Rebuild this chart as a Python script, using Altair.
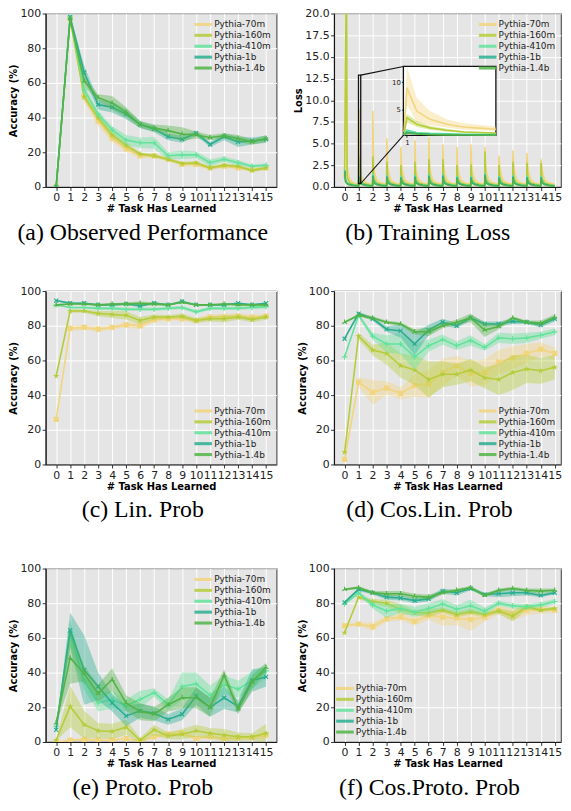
import altair as alt
import pandas as pd

MODELS = ["Pythia-70m", "Pythia-160m", "Pythia-410m", "Pythia-1b", "Pythia-1.4b"]
COLORS = ["#f2d57f", "#b6cc3a", "#63e39c", "#2aae90", "#52b448"]
TASKS = list(range(16))

# (a) Observed Performance
OBS_MEAN = {
    "Pythia-70m": [0, 97, 52, 38, 28, 22, 18, 18, 16, 13, 13, 11, 12, 11, 10, 11],
    "Pythia-160m": [0, 97, 52, 40, 30, 24, 19, 18, 16, 13.5, 14, 11, 12.5, 12, 9.5, 11],
    "Pythia-410m": [0, 98, 56, 42, 33, 27, 25.5, 25.5, 18, 18.5, 18.5, 14, 16, 14, 12, 12.5],
    "Pythia-1b": [0, 98, 66, 47.5, 46, 42, 36, 33.5, 29, 27.5, 31, 24.5, 29, 26, 26.5, 27.5],
    "Pythia-1.4b": [0, 97, 61, 51.5, 48.5, 43, 36, 34, 32.5, 30.5, 30, 28.5, 29.5, 28, 26, 28],
}
OBS_STD = {
    "Pythia-70m": [0, 1, 3, 3, 2, 2, 1.5, 1.5, 1, 1, 1, 1, 1, 1, 1, 1],
    "Pythia-160m": [0, 1, 2, 2, 2, 2, 1, 1, 1, 1, 1, 1, 1, 1, 1, 1],
    "Pythia-410m": [0, 1, 3, 2, 2, 3, 3, 3.5, 2, 2.5, 2, 2, 1.5, 1.5, 1, 1],
    "Pythia-1b": [0, 1, 4, 3, 3, 3, 2, 2, 2, 2, 1.5, 1.5, 2, 3, 2, 2],
    "Pythia-1.4b": [0, 1, 3, 2, 4, 3, 2, 2, 3, 4, 2, 1.5, 1.5, 2, 1.5, 2],
}

# (c) Lin. Prob
LIN_MEAN = {
    "Pythia-70m": [26, 78.5, 79, 78, 79, 80.5, 80, 83.5, 84, 84, 83, 85, 85, 85.5, 85, 85.5],
    "Pythia-160m": [51, 88.5, 88.5, 87, 86.5, 86, 83, 85, 85, 85.5, 83, 84, 84, 85, 83.5, 85],
    "Pythia-410m": [92, 90.5, 90.5, 90, 90, 89.5, 89.5, 89.5, 90, 90.5, 88, 90, 90, 90, 90.5, 91],
    "Pythia-1b": [94.5, 93, 93, 92, 92, 92.5, 91.5, 93, 92, 94, 92, 92, 92, 93, 92, 93],
    "Pythia-1.4b": [92, 92.5, 92.5, 92, 92.5, 92.5, 93, 92.5, 92, 93.5, 92, 92, 92.5, 92, 92, 92],
}
LIN_STD = {
    "Pythia-70m": [0, 1.5, 1.5, 1.5, 1, 1.5, 2, 1.5, 1, 1, 1.5, 1.5, 2, 1.5, 1.5, 1],
    "Pythia-160m": [0, 1, 1, 1.5, 2, 2.5, 2, 1.5, 1, 1.5, 1.5, 1.5, 2, 1.5, 1.5, 1.5],
    "Pythia-410m": [0, 0.5, 0.5, 1, 1, 1, 1, 1, 1, 1, 1, 1, 1, 1, 1, 1],
    "Pythia-1b": [0.5, 0.5, 0.5, 0.5, 0.5, 0.5, 1, 0.5, 0.5, 0.5, 0.5, 0.5, 0.5, 0.5, 0.5, 0.5],
    "Pythia-1.4b": [0.5, 0.5, 0.5, 0.5, 0.5, 1, 1, 1, 0.5, 0.5, 0.5, 0.5, 0.5, 0.5, 0.5, 0.5],
}

# (d) Cos.Lin. Prob
COSLIN_MEAN = {
    "Pythia-70m": [3, 47.5, 41.5, 44, 41, 45.5, 46.5, 53, 57, 52.5, 53, 59, 61.5, 64, 66.5, 64],
    "Pythia-160m": [7, 74, 66, 64, 57, 54.5, 49, 52, 52, 54.5, 50, 49, 53, 55, 54, 56],
    "Pythia-410m": [62, 86, 74, 69.5, 69.5, 62, 68.5, 72, 68.5, 71.5, 67.5, 73, 72.5, 73, 74.5, 76.5],
    "Pythia-1b": [72.5, 87, 84, 78, 77, 69.5, 77.5, 82, 80, 84.5, 81, 81, 82.5, 82, 80.5, 84],
    "Pythia-1.4b": [82, 86, 84.5, 82, 81, 76.5, 76.5, 80, 82, 84.5, 77.5, 79.5, 84.5, 82, 81.5, 85],
}
COSLIN_STD = {
    "Pythia-70m": [0.5, 3, 7, 4, 3.5, 6.5, 8, 8, 5.5, 7.5, 7.5, 7, 6.5, 5.5, 4, 3.5],
    "Pythia-160m": [0.5, 2, 3, 6.5, 7, 8.5, 10.5, 7.5, 6, 6.5, 6, 9, 10, 8, 7.5, 7],
    "Pythia-410m": [0.5, 1, 2, 5, 6, 7.5, 3.5, 3, 2.5, 3, 2, 3, 3, 3, 2, 2],
    "Pythia-1b": [0.5, 1, 1, 1.5, 4, 6.5, 3, 2, 1.5, 1.5, 1.5, 1.5, 1.5, 1, 1.5, 1.5],
    "Pythia-1.4b": [0.5, 1, 1, 1, 1, 1.5, 2.5, 1.5, 1.5, 2.5, 4, 1.5, 1, 1, 1.5, 1.5],
}

# (e) Proto. Prob
PROTO_MEAN = {
    "Pythia-70m": [0, 1, 1.5, 1, 1, 2, 0.5, 3, 4.5, 5, 2, 3, 2, 2.5, 2.5, 4],
    "Pythia-160m": [1, 20.5, 10, 6.5, 6, 8.5, 1, 7, 3.5, 4.5, 6.5, 5, 4, 3, 3, 5],
    "Pythia-410m": [9, 63, 35, 22.5, 24.5, 21, 24.5, 28.5, 21.5, 32, 33.5, 27, 33, 30.5, 35.5, 41],
    "Pythia-1b": [7, 64.5, 41.5, 32, 22.5, 15, 18, 16.5, 13, 16, 26.5, 20, 25.5, 20.5, 35.5, 37.5],
    "Pythia-1.4b": [11, 48.5, 39.5, 28, 36, 22.5, 17.5, 16, 21.5, 25.5, 25.5, 20, 38.5, 19, 34.5, 43],
}
PROTO_STD = {
    "Pythia-70m": [0, 0.5, 1, 0.5, 0.5, 1, 0.5, 1, 1.5, 1.5, 1, 1, 1, 1, 1, 2],
    "Pythia-160m": [0.5, 12, 8, 4.5, 4.5, 4.5, 1.5, 3, 2, 3, 3.5, 3, 3.5, 2.5, 2, 5.5],
    "Pythia-410m": [1, 7, 5, 5, 5, 3.5, 5, 2.5, 3, 8, 6.5, 5.5, 5.5, 5, 5, 4],
    "Pythia-1b": [1, 10, 20, 8, 5, 6, 4, 4, 3, 3.5, 5, 5.5, 6.5, 3.5, 6.5, 5.5],
    "Pythia-1.4b": [1, 15, 4.5, 5, 6.5, 4.5, 5, 4, 4, 6, 6, 5.5, 3.5, 3, 4, 2.5],
}

# (f) Cos.Proto. Prob
COSPROTO_MEAN = {
    "Pythia-70m": [67, 68, 66.5, 71, 72, 69.5, 73, 72, 71.5, 70.5, 72, 76, 73.5, 76, 76.5, 76],
    "Pythia-160m": [63, 83.5, 81, 80, 76.5, 74.5, 74.5, 76, 73.5, 75, 73.5, 75.5, 72.5, 78, 76, 77],
    "Pythia-410m": [79.5, 86, 79, 75.5, 77, 75, 77, 79.5, 76.5, 78.5, 75.5, 80, 78.5, 78, 79, 81],
    "Pythia-1b": [80.5, 88, 86, 83.5, 83, 81.5, 82.5, 87, 86, 88.5, 85, 85.5, 86, 86, 84.5, 86],
    "Pythia-1.4b": [88, 89, 86, 85.5, 85.5, 84, 83.5, 86, 87.5, 89, 84.5, 87.5, 88.5, 87.5, 87, 87.5],
}
COSPROTO_STD = {
    "Pythia-70m": [1, 1, 2.5, 1.5, 2, 2.5, 2.5, 5, 4, 6.5, 2.5, 2.5, 3.5, 3, 2.5, 1.5],
    "Pythia-160m": [0.5, 1, 1.5, 2, 3, 1.5, 2.5, 1.5, 1.5, 1.5, 1.5, 1.5, 3, 1.5, 1, 1],
    "Pythia-410m": [0.5, 1, 2, 4, 2.5, 3, 3, 3, 2.5, 3.5, 2, 1.5, 1.5, 1.5, 1.5, 1.5],
    "Pythia-1b": [0.5, 1, 1, 1.5, 1.5, 1.5, 1.5, 1.5, 1.5, 1, 1, 2, 2, 1.5, 1, 1],
    "Pythia-1.4b": [0.5, 1, 1, 1.5, 1.5, 1.5, 1.5, 1, 1, 1, 1, 1, 1, 1, 1.5, 1],
}

# (b) Training loss: each task i spans [i, i+1]; spike at the start then decay
LOSS_TASKS = list(range(15))
LOSS_STEP_X = [0.0, 0.02, 0.07, 0.15, 0.3, 0.6, 0.99]
LOSS_STEP_X0 = {  # first task: where the first logged points sit
    "Pythia-70m": [0.0, 0.13, 0.18, 0.26, 0.4, 0.6, 0.99],
    "Pythia-160m": [0.0, 0.13, 0.18, 0.26, 0.4, 0.6, 0.99],
    "Pythia-410m": LOSS_STEP_X,
    "Pythia-1b": LOSS_STEP_X,
    "Pythia-1.4b": LOSS_STEP_X,
}
LOSS_START0 = {"Pythia-70m": 1.0, "Pythia-160m": 1.0, "Pythia-410m": 1.9,
               "Pythia-1b": 1.8, "Pythia-1.4b": 1.7}
LOSS_PEAK = {
    "Pythia-70m": [22.0, 9.0, 8.8, 5.6, 4.6, 5.4, 5.7, 4.9, 4.6, 4.9, 4.6, 3.6, 4.2, 3.9, 3.2],
    "Pythia-160m": [25.0, 3.6, 3.5, 2.9, 2.5, 2.9, 3.2, 3.2, 2.5, 2.6, 4.1, 2.5, 2.9, 2.8, 2.8],
    "Pythia-410m": [1.9, 1.4, 1.5, 1.4, 1.3, 1.4, 1.5, 1.5, 1.3, 1.3, 1.6, 1.3, 1.4, 1.3, 1.3],
    "Pythia-1b": [1.8, 1.2, 1.3, 1.2, 1.1, 1.2, 1.3, 1.3, 1.1, 1.1, 1.4, 1.1, 1.2, 1.1, 1.1],
    "Pythia-1.4b": [1.7, 1.0, 1.1, 1.0, 0.9, 1.0, 1.1, 1.1, 0.9, 0.9, 1.2, 0.9, 1.0, 0.9, 0.9],
}
LOSS_PEAK_LO = {
    "Pythia-70m": [18.0, 6.0, 7.0, 5.0, 4.0, 4.6, 4.8, 4.2, 4.0, 4.2, 3.2, 3.0, 3.6, 3.3, 2.8],
    "Pythia-160m": [20.0, 2.7, 2.9, 2.4, 2.0, 2.4, 2.7, 2.7, 2.0, 2.1, 3.4, 2.0, 2.4, 2.3, 2.3],
    "Pythia-410m": [1.7, 1.2, 1.3, 1.2, 1.1, 1.2, 1.3, 1.3, 1.1, 1.1, 1.4, 1.1, 1.2, 1.1, 1.1],
    "Pythia-1b": [1.6, 1.0, 1.1, 1.0, 0.9, 1.0, 1.1, 1.1, 0.9, 0.9, 1.2, 0.9, 1.0, 0.9, 0.9],
    "Pythia-1.4b": [1.5, 0.8, 0.9, 0.8, 0.7, 0.8, 0.9, 0.9, 0.7, 0.7, 1.0, 0.7, 0.8, 0.7, 0.7],
}
LOSS_PEAK_HI = {
    "Pythia-70m": [26.0, 14.5, 10.5, 6.2, 5.2, 6.1, 6.3, 5.4, 5.1, 5.4, 6.2, 4.0, 4.6, 4.3, 3.5],
    "Pythia-160m": [30.0, 4.3, 4.0, 3.4, 3.0, 3.4, 3.7, 3.7, 3.0, 3.1, 4.8, 3.0, 3.4, 3.3, 3.3],
    "Pythia-410m": [2.1, 1.6, 1.7, 1.6, 1.5, 1.6, 1.7, 1.7, 1.5, 1.5, 1.8, 1.5, 1.6, 1.5, 1.5],
    "Pythia-1b": [2.0, 1.4, 1.5, 1.4, 1.3, 1.4, 1.5, 1.5, 1.3, 1.3, 1.6, 1.3, 1.4, 1.3, 1.3],
    "Pythia-1.4b": [1.9, 1.2, 1.3, 1.2, 1.1, 1.2, 1.3, 1.3, 1.1, 1.1, 1.4, 1.1, 1.2, 1.1, 1.1],
}
LOSS_TAIL = {
    "Pythia-70m": [2.4, 1.5, 0.8, 0.45, 0.3],
    "Pythia-160m": [1.3, 0.8, 0.45, 0.3, 0.2],
    "Pythia-410m": [0.9, 0.55, 0.35, 0.22, 0.15],
    "Pythia-1b": [0.7, 0.45, 0.3, 0.2, 0.12],
    "Pythia-1.4b": [0.6, 0.4, 0.25, 0.15, 0.1],
}
LOSS_TAIL_LO = {
    "Pythia-70m": [1.8, 1.2, 0.6, 0.35, 0.22],
    "Pythia-160m": [1.05, 0.65, 0.38, 0.25, 0.16],
    "Pythia-410m": [0.8, 0.48, 0.3, 0.19, 0.12],
    "Pythia-1b": [0.62, 0.4, 0.26, 0.17, 0.1],
    "Pythia-1.4b": [0.53, 0.35, 0.22, 0.13, 0.08],
}
LOSS_TAIL_HI = {
    "Pythia-70m": [3.3, 2.0, 1.0, 0.55, 0.38],
    "Pythia-160m": [1.6, 0.95, 0.52, 0.35, 0.24],
    "Pythia-410m": [1.0, 0.62, 0.4, 0.25, 0.18],
    "Pythia-1b": [0.78, 0.5, 0.34, 0.23, 0.14],
    "Pythia-1.4b": [0.67, 0.45, 0.28, 0.17, 0.12],
}

# inset: zoom on the start of task 1
INSET_X = [0.995, 1.0, 1.017, 1.04, 1.069, 1.098, 1.125, 1.154]
INSET_MEAN = {
    "Pythia-70m": [1.0, 9.0, 4.8, 3.3, 2.4, 1.9, 1.7, 1.5],
    "Pythia-160m": [0.5, 3.6, 2.4, 1.75, 1.3, 1.0, 0.9, 0.8],
    "Pythia-410m": [0.45, 1.35, 0.9, 0.75, 0.65, 0.6, 0.57, 0.55],
    "Pythia-1b": [0.42, 1.0, 0.72, 0.6, 0.55, 0.5, 0.48, 0.46],
    "Pythia-1.4b": [0.42, 0.8, 0.62, 0.52, 0.48, 0.46, 0.44, 0.43],
}
INSET_LO = {
    "Pythia-70m": [0.6, 6.0, 2.8, 2.2, 1.8, 1.4, 1.3, 1.2],
    "Pythia-160m": [0.42, 2.7, 1.9, 1.4, 1.05, 0.85, 0.75, 0.7],
    "Pythia-410m": [0.42, 1.15, 0.8, 0.67, 0.58, 0.54, 0.52, 0.5],
    "Pythia-1b": [0.4, 0.88, 0.65, 0.55, 0.5, 0.46, 0.44, 0.43],
    "Pythia-1.4b": [0.4, 0.72, 0.56, 0.48, 0.45, 0.43, 0.42, 0.41],
}
INSET_HI = {
    "Pythia-70m": [1.4, 14.5, 7.2, 4.8, 3.3, 2.6, 2.3, 2.0],
    "Pythia-160m": [0.6, 4.3, 3.0, 2.1, 1.6, 1.2, 1.05, 0.95],
    "Pythia-410m": [0.5, 1.55, 1.0, 0.83, 0.72, 0.66, 0.62, 0.6],
    "Pythia-1b": [0.45, 1.12, 0.8, 0.66, 0.6, 0.55, 0.52, 0.5],
    "Pythia-1.4b": [0.44, 0.88, 0.68, 0.57, 0.52, 0.5, 0.47, 0.46],
}
INSET_XDOM = [0.994, 1.154]
INSET_YDOM = [0.4, 12.9]
INSET_BOX_X = [4.2, 10.8]     # where the inset sits, in main-axis units
INSET_BOX_Y = [5.96, 13.9]

STAR = ("M0,-1L0.2245,-0.309L0.951,-0.309L0.363,0.118L0.588,0.809L0,0.382"
        "L-0.588,0.809L-0.363,0.118L-0.951,-0.309L-0.2245,-0.309Z")
MARKERS = {
    "Pythia-70m": ("square", True, 28),
    "Pythia-160m": (STAR, True, 45),
    "Pythia-410m": ("M-1,0L1,0M0,-1L0,1", False, 30),
    "Pythia-1b": ("M-1,-1L1,1M-1,1L1,-1", False, 16),
    "Pythia-1.4b": ("M0,0L0,-1M0,0L0.87,0.5M0,0L-0.87,0.5", False, 30),
}
# wide flat bar (extends beyond the unit box so rows stay compact)
LEGEND_SYMBOL = "M-1.5,-0.26L1.5,-0.26L1.5,0.26L-1.5,0.26Z"

W_L, W_R, H = 233, 229, 175
XDOM_L = [-0.75, 15.75]
XDOM_R = [-0.75, 15.45]

COLOR_SCALE = alt.Scale(domain=MODELS, range=COLORS)


def make_legend(orient):
    return alt.Legend(orient=orient, title=None, offset=3, symbolType=LEGEND_SYMBOL,
                      symbolSize=140, symbolOpacity=0.85, symbolStrokeWidth=0,
                      labelFontSize=9, labelFont="DejaVu Sans", labelColor="#222",
                      labelOffset=5, rowPadding=0, padding=2, labelLimit=200)


def x_enc(dom):
    return alt.X("task:Q", scale=alt.Scale(domain=dom, nice=False, zero=False),
                 axis=alt.Axis(values=TASKS, title="# Task Has Learned", format="d",
                               labelOverlap=False, labelFlush=False))


def caption(text):
    return alt.TitleParams(text=text, orient="bottom", font="Liberation Serif",
                           fontSize=24, fontWeight="normal", color="#000",
                           offset=7, anchor="middle", frame="bounds")


def acc_panel(mean_d, std_d, cap, legend_orient, width, xdom):
    ysc = alt.Scale(domain=[0, 100], nice=False)
    yax = alt.Axis(values=[0, 20, 40, 60, 80, 100], title="Accuracy (%)")
    leg = make_legend(legend_orient)
    layers = []
    for m in MODELS:
        mean = mean_d[m]
        std = std_d[m]
        df = pd.DataFrame({
            "task": TASKS, "mean": mean,
            "lo": [a - b for a, b in zip(mean, std)],
            "hi": [a + b for a, b in zip(mean, std)],
            "model": m,
        })
        base = alt.Chart(df)
        col = alt.Color("model:N", scale=COLOR_SCALE, legend=leg)
        band = base.mark_area(opacity=0.4, clip=True).encode(
            x=x_enc(xdom), y=alt.Y("lo:Q", scale=ysc, axis=yax), y2="hi:Q", color=col)
        line = base.mark_line(strokeWidth=1.6, clip=True).encode(
            x=x_enc(xdom), y=alt.Y("mean:Q", scale=ysc, axis=yax), color=col)
        shape, filled, size = MARKERS[m]
        pts = base.mark_point(shape=shape, filled=filled, size=size, opacity=1,
                              strokeWidth=1.2, clip=True).encode(
            x=x_enc(xdom), y=alt.Y("mean:Q", scale=ysc, axis=yax), color=col)
        layers += [band, line, pts]
    return alt.layer(*layers).properties(width=width, height=H, title=caption(cap))


def loss_panel():
    ysc = alt.Scale(domain=[0, 20], nice=False)
    yax = alt.Axis(values=[0, 2.5, 5, 7.5, 10, 12.5, 15, 17.5, 20], format=".1f", title="Loss")
    leg = make_legend("top-right")
    col = alt.Color("model:N", scale=COLOR_SCALE, legend=leg)
    main_layers = []
    for m in MODELS:
        xs, ys, los, his = [], [], [], []
        for i in LOSS_TASKS:
            if i == 0:
                s, slo, shi = LOSS_START0[m], LOSS_START0[m], LOSS_START0[m]
                steps = LOSS_STEP_X0[m]
            else:
                s, slo, shi = LOSS_TAIL[m][-1], LOSS_TAIL_LO[m][-1], LOSS_TAIL_HI[m][-1]
                steps = LOSS_STEP_X
            xs += [i + o for o in steps]
            ys += [s, LOSS_PEAK[m][i]] + LOSS_TAIL[m]
            los += [slo, LOSS_PEAK_LO[m][i]] + LOSS_TAIL_LO[m]
            his += [shi, LOSS_PEAK_HI[m][i]] + LOSS_TAIL_HI[m]
        df = pd.DataFrame({"task": xs, "loss": ys, "lo": los, "hi": his, "model": m})
        base = alt.Chart(df)
        band = base.mark_area(opacity=0.4, clip=True).encode(
            x=x_enc(XDOM_R), y=alt.Y("lo:Q", scale=ysc, axis=yax), y2="hi:Q", color=col)
        line = base.mark_line(strokeWidth=1.6, clip=True).encode(
            x=x_enc(XDOM_R), y=alt.Y("loss:Q", scale=ysc, axis=yax), color=col)
        main_layers += [band, line]

    # zoom indicator box, connectors and inset background (main-axis units)
    box_df = pd.DataFrame({"task": [INSET_XDOM[0]], "t2": [INSET_XDOM[1]],
                           "y": [INSET_YDOM[0]], "y2": [INSET_YDOM[1]]})
    box = alt.Chart(box_df).mark_rect(fillOpacity=0, stroke="#111", strokeWidth=1.3).encode(
        x=x_enc(XDOM_R), x2="t2:Q", y=alt.Y("y:Q", scale=ysc, axis=yax), y2="y2:Q")
    conn_df = pd.DataFrame({"task": [INSET_XDOM[1], INSET_XDOM[1]],
                            "t2": [INSET_BOX_X[0], INSET_BOX_X[0]],
                            "y": [INSET_YDOM[1], INSET_YDOM[0]],
                            "y2": [INSET_BOX_Y[1], INSET_BOX_Y[0]]})
    conn = alt.Chart(conn_df).mark_rule(stroke="#111", strokeWidth=1.1).encode(
        x=x_enc(XDOM_R), x2="t2:Q", y=alt.Y("y:Q", scale=ysc, axis=yax), y2="y2:Q")
    bg_df = pd.DataFrame({"task": [INSET_BOX_X[0]], "t2": [INSET_BOX_X[1]],
                          "y": [INSET_BOX_Y[0]], "y2": [INSET_BOX_Y[1]]})
    bg = alt.Chart(bg_df).mark_rect(fill="white", stroke="#111", strokeWidth=1.3).encode(
        x=x_enc(XDOM_R), x2="t2:Q", y=alt.Y("y:Q", scale=ysc, axis=yax), y2="y2:Q")
    main = alt.layer(*main_layers, box, conn, bg)

    # inset scales: pixel ranges derived from the inset box position
    def px(v):
        return (v - XDOM_R[0]) / (XDOM_R[1] - XDOM_R[0]) * W_R

    def py(v):
        return H - v / 20 * H

    ix_rng = [px(INSET_BOX_X[0]), px(INSET_BOX_X[1])]
    iy_rng = [py(INSET_BOX_Y[0]), py(INSET_BOX_Y[1])]
    ixsc = alt.Scale(domain=INSET_XDOM, range=ix_rng, clamp=True, nice=False, zero=False)
    iysc = alt.Scale(domain=INSET_YDOM, range=iy_rng, clamp=True, nice=False, zero=False)
    ixax = alt.Axis(values=[1], orient="bottom", offset=-(H - iy_rng[0]), grid=False,
                    domain=False, title=None, labelFontSize=7, tickSize=2, labelPadding=1,
                    labelFlush=False, format="d")
    iyax = alt.Axis(values=[5, 10], orient="left", offset=-ix_rng[0], grid=False,
                    domain=False, title=None, labelFontSize=7, tickSize=2, labelPadding=1,
                    format="d")
    inset_layers = []
    for m in MODELS:
        df = pd.DataFrame({"ix": INSET_X, "iy": INSET_MEAN[m], "ilo": INSET_LO[m],
                           "ihi": INSET_HI[m], "model": m})
        base = alt.Chart(df)
        band = base.mark_area(opacity=0.4).encode(
            x=alt.X("ix:Q", scale=ixsc, axis=ixax),
            y=alt.Y("ilo:Q", scale=iysc, axis=iyax), y2="ihi:Q", color=col)
        line = base.mark_line(strokeWidth=1.6).encode(
            x=alt.X("ix:Q", scale=ixsc, axis=ixax),
            y=alt.Y("iy:Q", scale=iysc, axis=iyax), color=col)
        inset_layers += [band, line]
    inset = alt.layer(*inset_layers)
    return alt.layer(main, inset).resolve_scale(x="independent", y="independent").properties(
        width=W_R, height=H, title=caption("(b) Training Loss"))


pa = acc_panel(OBS_MEAN, OBS_STD, "(a) Observed Performance", "top-right", W_L, XDOM_L)
pb = loss_panel()
pc = acc_panel(LIN_MEAN, LIN_STD, "(c) Lin. Prob", "bottom-right", W_L, XDOM_L)
pd_ = acc_panel(COSLIN_MEAN, COSLIN_STD, "(d) Cos.Lin. Prob", "bottom-right", W_R, XDOM_R)
pe = acc_panel(PROTO_MEAN, PROTO_STD, "(e) Proto. Prob", "top-right", W_L, XDOM_L)
pf = acc_panel(COSPROTO_MEAN, COSPROTO_STD, "(f) Cos.Proto. Prob", "bottom-left", W_R, XDOM_R)

chart = alt.concat(pa, pb, pc, pd_, pe, pf, columns=2,
                   spacing={"row": 105, "column": 58}, bounds="flush").resolve_scale(
    color="independent", x="independent", y="independent"
).properties(
    padding={"left": 0, "top": -5, "right": 0, "bottom": 0}
).configure_view(
    fill="#e5e5e5", stroke="#555", strokeWidth=1.2
).configure_axis(
    gridColor="white", gridWidth=1, domainColor="#111", domainWidth=1,
    tickColor="#333", tickSize=3.5, labelFont="DejaVu Sans", labelFontSize=11,
    labelColor="#222", labelPadding=1.5, titleFont="DejaVu Sans", titleFontSize=10,
    titleFontWeight="bold", titleColor="#000", titlePadding=1
).configure_legend(
    fillColor="transparent", strokeColor="transparent"
)

chart.save("out.html", embed_options={"renderer": "svg", "actions": False})
